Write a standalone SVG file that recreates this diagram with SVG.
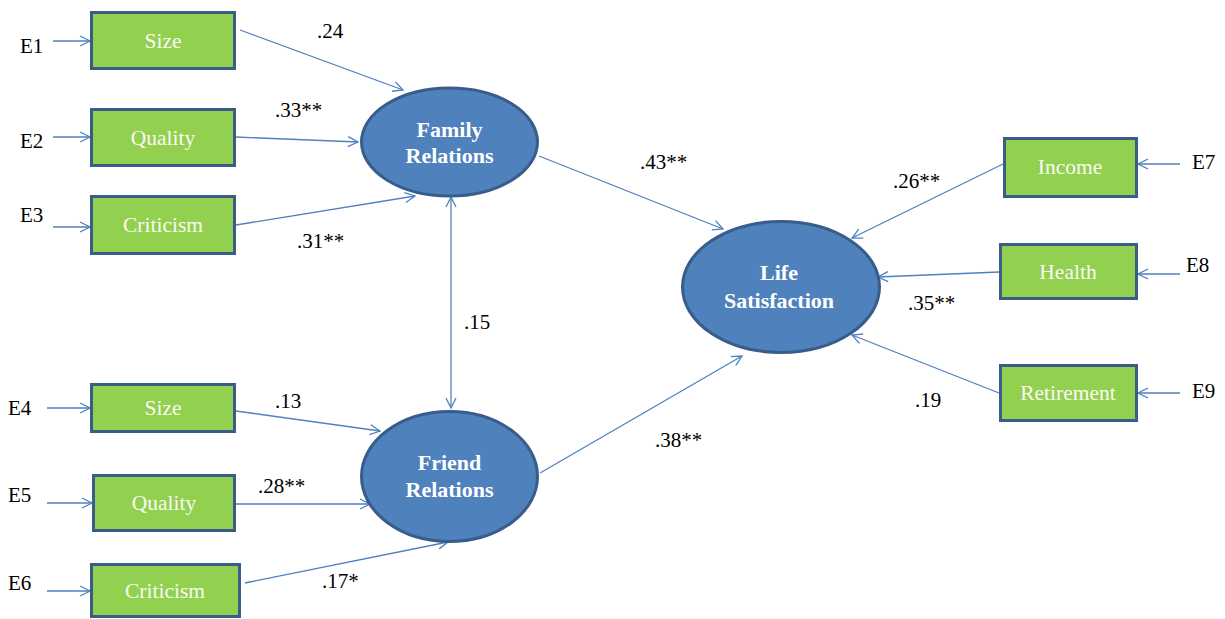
<svg xmlns="http://www.w3.org/2000/svg" width="1225" height="619" viewBox="0 0 1225 619">
<style>
.box{fill:#92D050;stroke:#3A5C88;stroke-width:3}
.ell{fill:#4F81BD;stroke:#385D8A;stroke-width:3}
.bt{font-family:"Liberation Serif","Times New Roman",serif;font-size:21.5px;fill:#FAFAF0;text-anchor:middle}
.et{font-family:"Liberation Serif","Times New Roman",serif;font-size:22px;font-weight:bold;fill:#FFFFFF;text-anchor:middle}
.lb{font-family:"Liberation Serif","Times New Roman",serif;font-size:21px;fill:#000000}
.cn{stroke:#4F81BD;stroke-width:1.3;fill:none}
</style>
<defs>
<marker id="ah" markerWidth="12" markerHeight="12" refX="11" refY="6" orient="auto" markerUnits="userSpaceOnUse">
<path d="M1,1 L11,6 L1,11" fill="none" stroke="#4F81BD" stroke-width="1.3"/>
</marker>
<marker id="as" markerWidth="12" markerHeight="12" refX="1" refY="6" orient="auto" markerUnits="userSpaceOnUse">
<path d="M11,1 L1,6 L11,11" fill="none" stroke="#4F81BD" stroke-width="1.3"/>
</marker>
</defs>
<g id="connectors">
<line class="cn" x1="53" y1="41" x2="90" y2="41" marker-end="url(#ah)"/>
<line class="cn" x1="53" y1="137" x2="90" y2="137" marker-end="url(#ah)"/>
<line class="cn" x1="53" y1="227" x2="90" y2="227" marker-end="url(#ah)"/>
<line class="cn" x1="47" y1="408" x2="90" y2="408" marker-end="url(#ah)"/>
<line class="cn" x1="47" y1="503" x2="92" y2="503" marker-end="url(#ah)"/>
<line class="cn" x1="47" y1="591" x2="90" y2="591" marker-end="url(#ah)"/>
<line class="cn" x1="1180" y1="164" x2="1138" y2="164" marker-end="url(#ah)"/>
<line class="cn" x1="1180" y1="274" x2="1138" y2="274" marker-end="url(#ah)"/>
<line class="cn" x1="1180" y1="393" x2="1138" y2="393" marker-end="url(#ah)"/>
<line class="cn" x1="240" y1="30" x2="403" y2="90" marker-end="url(#ah)"/>
<line class="cn" x1="236" y1="137" x2="358" y2="142" marker-end="url(#ah)"/>
<line class="cn" x1="236" y1="225" x2="415" y2="196" marker-end="url(#ah)"/>
<line class="cn" x1="539" y1="156" x2="723" y2="229" marker-end="url(#ah)"/>
<line class="cn" x1="540" y1="473" x2="742" y2="356" marker-end="url(#ah)"/>
<line class="cn" x1="1003" y1="164" x2="852" y2="238" marker-end="url(#ah)"/>
<line class="cn" x1="999" y1="272" x2="878" y2="277" marker-end="url(#ah)"/>
<line class="cn" x1="999" y1="393" x2="852" y2="335" marker-end="url(#ah)"/>
<line class="cn" x1="236" y1="411" x2="380" y2="431" marker-end="url(#ah)"/>
<line class="cn" x1="236" y1="504" x2="370" y2="504" marker-end="url(#ah)"/>
<line class="cn" x1="245" y1="583" x2="448" y2="542" marker-end="url(#ah)"/>
<line class="cn" x1="451" y1="197" x2="451" y2="408" marker-start="url(#as)" marker-end="url(#ah)"/>
</g>
<g id="n-size1"><rect class="box" x="91.5" y="12.5" width="143" height="56"/><text class="bt" x="163" y="48">Size</text></g>
<g id="n-quality1"><rect class="box" x="91.5" y="109.5" width="143" height="56"/><text class="bt" x="163" y="145">Quality</text></g>
<g id="n-criticism1"><rect class="box" x="91.5" y="196.5" width="143" height="57"/><text class="bt" x="163" y="232">Criticism</text></g>
<g id="n-size2"><rect class="box" x="91.5" y="384.5" width="143" height="47"/><text class="bt" x="163" y="415">Size</text></g>
<g id="n-quality2"><rect class="box" x="93.5" y="475.5" width="141" height="55"/><text class="bt" x="164" y="510">Quality</text></g>
<g id="n-criticism2"><rect class="box" x="91.5" y="564.5" width="148" height="52"/><text class="bt" x="165" y="598">Criticism</text></g>
<g id="n-income"><rect class="box" x="1004.5" y="138.5" width="132" height="58"/><text class="bt" x="1070" y="174">Income</text></g>
<g id="n-health"><rect class="box" x="1000.5" y="244.5" width="136" height="54"/><text class="bt" x="1068" y="279">Health</text></g>
<g id="n-retirement"><rect class="box" x="1000.5" y="365.5" width="136" height="55"/><text class="bt" x="1068" y="400">Retirement</text></g>
<g id="n-family"><ellipse class="ell" cx="449.5" cy="142" rx="88" ry="54"/><text class="et" x="449.5" y="137">Family</text><text class="et" x="449.5" y="163">Relations</text></g>
<g id="n-friend"><ellipse class="ell" cx="449.5" cy="476.5" rx="88" ry="65"/><text class="et" x="449.5" y="470">Friend</text><text class="et" x="449.5" y="497">Relations</text></g>
<g id="n-life"><ellipse class="ell" cx="781" cy="287" rx="98.5" ry="65.5"/><text class="et" x="779" y="280">Life</text><text class="et" x="779" y="308">Satisfaction</text></g>
<g id="errors">
<text class="lb" x="20" y="53">E1</text>
<text class="lb" x="20" y="148">E2</text>
<text class="lb" x="20" y="222">E3</text>
<text class="lb" x="8" y="415">E4</text>
<text class="lb" x="8" y="502">E5</text>
<text class="lb" x="8" y="590">E6</text>
<text class="lb" x="1192" y="169">E7</text>
<text class="lb" x="1186" y="272">E8</text>
<text class="lb" x="1192" y="398">E9</text>
</g>
<g id="labels">
<text class="lb" x="317" y="38">.24</text>
<text class="lb" x="275" y="117">.33**</text>
<text class="lb" x="297" y="248">.31**</text>
<text class="lb" x="640" y="169">.43**</text>
<text class="lb" x="464" y="329">.15</text>
<text class="lb" x="655" y="447">.38**</text>
<text class="lb" x="893" y="188">.26**</text>
<text class="lb" x="908" y="310">.35**</text>
<text class="lb" x="915" y="407">.19</text>
<text class="lb" x="275" y="408">.13</text>
<text class="lb" x="258" y="493">.28**</text>
<text class="lb" x="322" y="588">.17*</text>
</g>
</svg>
